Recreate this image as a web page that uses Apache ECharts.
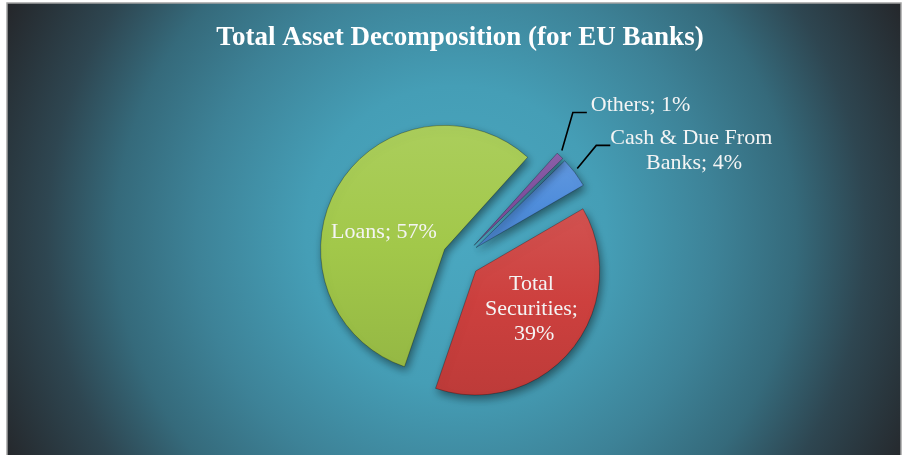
<!DOCTYPE html>
<html>
<head>
<meta charset="utf-8">
<script src="https://cdn.jsdelivr.net/npm/echarts@6/dist/echarts.min.js"></script>
<style>
  html, body { margin: 0; padding: 0; background: #ffffff; }
  #chart { width: 904px; height: 455px; }
</style>
</head>
<body>
<div id="chart"></div>
<script>
// Share of total assets held by EU banks, in percent (order of the worksheet rows)
const categories = ['Cash & Due From Banks', 'Total Securities', 'Loans', 'Others'];
const shares = [4, 39, 57, 1];
const sliceColors = ['#4f8ddb', '#cd403e', '#a2c84a', '#7f4f9f'];
const chartTitle = 'Total Asset Decomposition (for EU Banks)';

const serif = '"Liberation Serif", "DejaVu Serif", serif';
const pieCenter = [461, 259];
const pieRadius = 124;
const pieStart = 44.4;
const explode = 19;

// lighten (amt > 0) or darken (amt < 0) a hex colour
function shade(hex, amt) {
  const n = parseInt(hex.slice(1), 16);
  const r = (n >> 16) & 255, g = (n >> 8) & 255, b = n & 255;
  const f = c => Math.max(0, Math.min(255, Math.round(amt >= 0 ? c + (255 - c) * amt : c * (1 + amt))));
  return 'rgb(' + f(r) + ',' + f(g) + ',' + f(b) + ')';
}

function sliceStyle(base) {
  return {
    color: {
      type: 'linear', x: 0, y: 0, x2: 0, y2: 1,
      colorStops: [
        { offset: 0, color: shade(base, 0.1) },
        { offset: 0.5, color: base },
        { offset: 1, color: shade(base, -0.08) }
      ]
    },
    borderColor: shade(base, -0.28),
    borderWidth: 1,
    shadowBlur: 8,
    shadowOffsetX: 2,
    shadowOffsetY: 4,
    shadowColor: 'rgba(0,0,0,0.45)'
  };
}

// slices whose labels sit outside on a leader line
const outsideLabel = [true, false, false, true];

// exploded slices (every slice is pulled out of the pie)
const sliceData = categories.map((name, i) => ({
  name: name,
  value: shares[i],
  selected: true,
  itemStyle: sliceStyle(sliceColors[i])
}));

// same values again, unfilled, carrying the data labels
const labelData = categories.map((name, i) => {
  const item = { name: name, value: shares[i] };
  if (outsideLabel[i]) {
    item.label = { position: 'outside', width: i === 0 ? 165 : 140, overflow: 'break' };
    item.labelLine = { show: true, length: 20, length2: 12 };
  } else {
    item.label = { position: 'inside', width: i === 1 ? 105 : 140, overflow: 'break' };
    item.labelLine = { show: false };
  }
  return item;
});

// shift of each label from its un-exploded spot (slice explosion plus fine placement)
const labelShift = [[17.6, -15.5], [23, 9], [-21, 6], [15, -19]];

const chart = echarts.init(document.getElementById('chart'), null, { renderer: 'canvas' });

chart.setOption({
  animation: false,
  graphic: [
    {
      type: 'rect',
      z: -10,
      silent: true,
      shape: { x: 7, y: 3, width: 894, height: 453 },
      style: {
        fill: {
          type: 'radial', x: 456, y: 236, r: 500, global: true,
          colorStops: [
            { offset: 0, color: '#4aa8c1' },
            { offset: 0.3, color: '#459eb6' },
            { offset: 0.52, color: '#3d8297' },
            { offset: 0.68, color: '#356a7b' },
            { offset: 0.82, color: '#2e4651' },
            { offset: 1, color: '#25282c' }
          ]
        },
        stroke: '#a3a3a3',
        lineWidth: 1.5
      }
    }
  ],
  title: {
    text: chartTitle,
    left: 460,
    top: 23,
    textAlign: 'center',
    padding: 0,
    textStyle: {
      color: '#ffffff',
      fontFamily: serif,
      fontWeight: 'bold',
      fontSize: 27,
      lineHeight: 30
    }
  },
  series: [
    {
      type: 'pie',
      center: pieCenter,
      radius: pieRadius,
      startAngle: pieStart,
      clockwise: true,
      selectedMode: 'multiple',
      selectedOffset: explode,
      emphasis: { disabled: true },
      select: {
        itemStyle: { borderColor: 'rgba(0,0,0,0.28)', borderWidth: 1 }
      },
      label: { show: false },
      labelLine: { show: false },
      data: sliceData
    },
    {
      type: 'pie',
      center: pieCenter,
      radius: pieRadius,
      startAngle: pieStart,
      clockwise: true,
      silent: true,
      selectedMode: false,
      avoidLabelOverlap: false,
      z: 5,
      emphasis: { disabled: true },
      itemStyle: { color: 'rgba(0,0,0,0)', borderWidth: 0 },
      label: {
        show: true,
        color: '#f4f4f4',
        fontFamily: serif,
        fontSize: 22,
        lineHeight: 25,
        formatter: p => p.name + '; ' + p.value + '%'
      },
      labelLine: {
        lineStyle: { color: '#000000', width: 1.6 }
      },
      labelLayout: function (params) {
        const i = params.dataIndex;
        const s = labelShift[i];
        const r = params.labelRect;
        if (!outsideLabel[i]) {
          return {
            x: r.x + r.width / 2 + s[0],
            y: r.y + r.height / 2 + s[1],
            align: 'center',
            verticalAlign: 'middle'
          };
        }
        const p0 = params.labelLinePoints[0];
        const q0 = [p0[0] + s[0], p0[1] + s[1]];
        const rise = i === 3 ? [11, -38] : [19, -23];
        const q1 = [q0[0] + rise[0], q0[1] + rise[1]];
        const q2 = [q1[0] + 14, q1[1]];
        return i === 3
          ? { x: q2[0] + 4, y: q2[1] - 7, align: 'left', verticalAlign: 'middle', labelLinePoints: [q0, q1, q2] }
          : { x: q2[0] + 81, y: q2[1] + 5.5, align: 'center', verticalAlign: 'middle', labelLinePoints: [q0, q1, q2] };
      },
      data: labelData
    }
  ]
});
</script>
</body>
</html>
